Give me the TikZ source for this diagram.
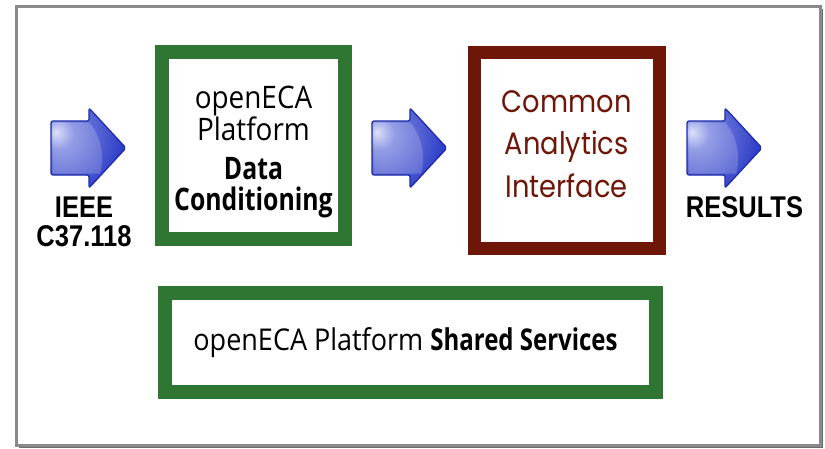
\documentclass[tikz,border=0pt]{standalone}
\usepackage{fontspec}
\newfontfamily\labelfont[FakeStretch=0.85]{Liberation Sans}
\newfontfamily\ecafont[FakeStretch=0.9, BoldFeatures={FakeStretch=0.8}]{Open Sans}
\newfontfamily\caifont[FakeStretch=0.88]{Poppins}

\definecolor{ecagreen}{HTML}{2E7631}
\definecolor{caired}{HTML}{6E1608}
\definecolor{framegray}{HTML}{8A8A8A}
\definecolor{arrowdark}{HTML}{2435C4}
\definecolor{arrowmid}{HTML}{7C88E0}
\definecolor{arrowlight}{HTML}{D4DAF8}
\definecolor{arrowedge}{HTML}{1E2AA8}

\pgfdeclareradialshading{arrowshine}{\pgfpoint{-22bp}{10bp}}{%
  color(0bp)=(arrowlight); color(10bp)=(arrowmid); color(40bp)=(arrowdark); color(100bp)=(arrowdark)}

\tikzset{
  ecabox/.style={draw=ecagreen, line width=14pt, fill=white, inner sep=0pt},
  caibox/.style={draw=caired, line width=13pt, fill=white, inner sep=0pt},
  ecatext/.style={align=center, inner sep=0pt, font=\ecafont\fontsize{31}{31}\selectfont},
  caitext/.style={align=center, inner sep=0pt, text=caired, font=\caifont\fontsize{31}{42.5}\selectfont},
  labeltext/.style={align=center, inner sep=0pt, font=\labelfont\bfseries\fontsize{30}{29}\selectfont}
}

\begin{document}
\begin{tikzpicture}[x=1pt,y=-1pt]
   \useasboundingbox[fill=white] (0,0) rectangle (825,448);
   % frame with shadow
   \fill[framegray!80!black] (19,9) rectangle (823,448);
   \draw[framegray, line width=3pt, fill=white] (16.5,6.5) rectangle (820.5,445.5);

   % boxes
   \node[ecabox, minimum width=183pt, minimum height=187pt] (conditioning) at (253.5,145.5) {};
   \node[caibox, minimum width=184.5pt, minimum height=196pt] (analytics) at (566.75,150) {};
   \node[ecabox, minimum width=491.5pt, minimum height=99pt] (services) at (410.25,342.5) {};

   \node[ecatext] (conditioningtext) at (253.5,152) {openECA\\Platform\\[8pt]\textbf{Data}\\\textbf{Conditioning}};
   \node[caitext] (analyticstext) at (566.75,144) {Common\\Analytics\\Interface};
   \node[ecatext, font=\ecafont\fontsize{30}{30}\selectfont] (servicestext) at (405.5,343) {openECA Platform \textbf{Shared Services}};

   % labels
   \node[labeltext] (ieee) at (84,222) {IEEE\\C37.118};
   \node[labeltext] (results) at (744.5,207.5) {RESULTS};

   % block arrows
   \foreach \ax in {51,372,687} {
    \begin{scope}[shift={(\ax,148)}]
     \shade[shading=arrowshine, draw=arrowedge, line width=1.2pt, rounded corners=2pt]
       (0,-27) -- (38,-27) -- (38,-40) -- (75,0) -- (38,40) -- (38,27) -- (0,27) -- cycle;
     \fill[white, opacity=0.18] (1.5,-25.5) -- (38,-25.5) .. controls (50,-12) and (54,8) .. (49,25.5) -- (1.5,25.5) -- cycle;
    \end{scope}
   }
\end{tikzpicture}
\end{document}
